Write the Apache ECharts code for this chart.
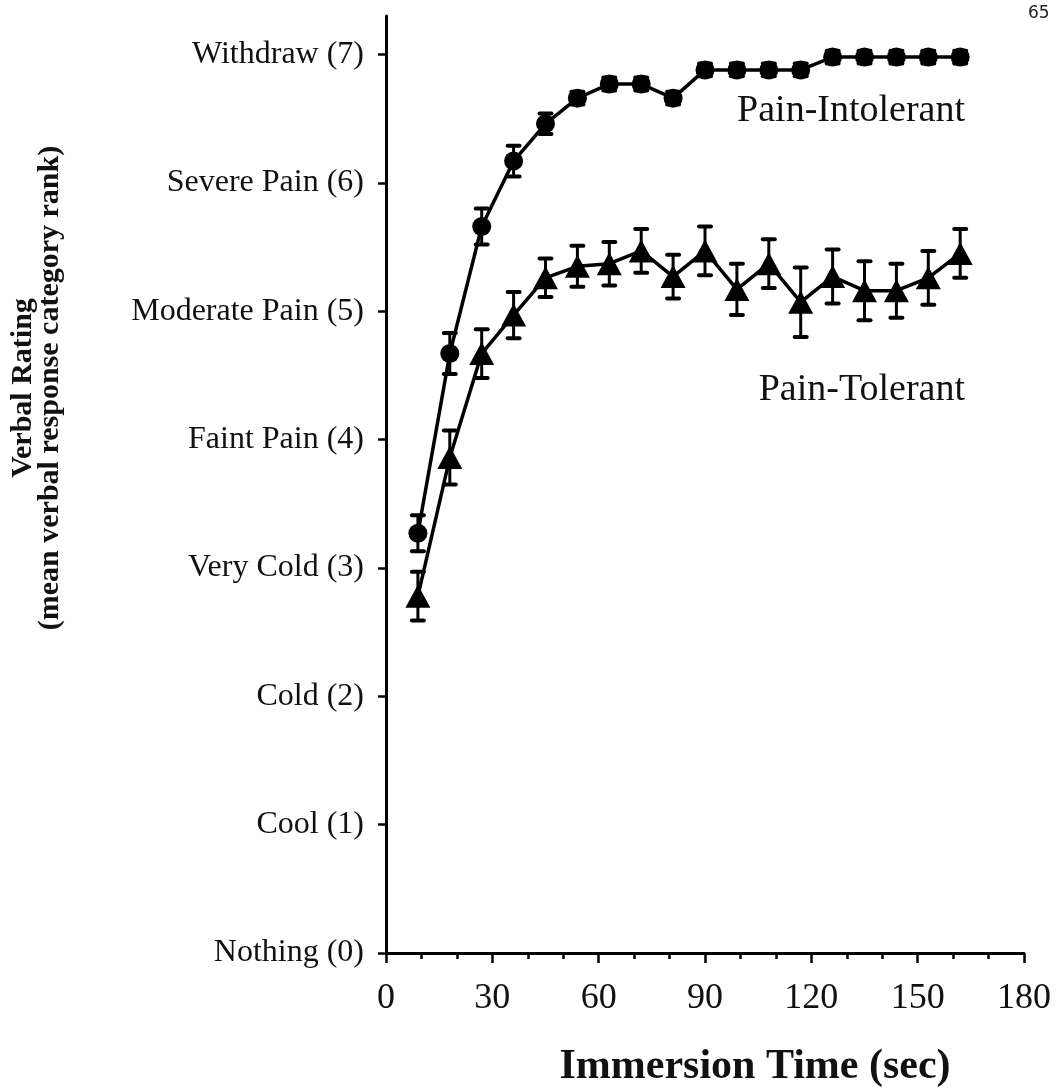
<!DOCTYPE html>
<html>
<head>
<meta charset="utf-8">
<script src="https://cdn.jsdelivr.net/npm/echarts@6/dist/echarts.min.js"></script>
<style>
html, body { margin: 0; padding: 0; background: #fff; }
#main { width: 1057px; height: 1090px; }
</style>
</head>
<body>
<div id="main"></div>
<script>
// immersion times (sec)
var times = [9, 18, 27, 36, 45, 54, 63, 72, 81, 90, 99, 108, 117, 126, 135, 144, 153, 162];

// mean verbal rating and error half-widths
var intolerant    = [3.27, 4.67, 5.66, 6.17, 6.46, 6.66, 6.77, 6.77, 6.66, 6.88, 6.88, 6.88, 6.88, 6.98, 6.98, 6.98, 6.98, 6.98];
var intolerantErr = [0.14, 0.16, 0.14, 0.12, 0.08, 0.05, 0.05, 0.05, 0.05, 0.05, 0.05, 0.05, 0.05, 0.05, 0.05, 0.05, 0.05, 0.05];
var tolerant      = [2.78, 3.86, 4.67, 4.97, 5.26, 5.35, 5.37, 5.47, 5.27, 5.47, 5.17, 5.37, 5.07, 5.27, 5.16, 5.16, 5.26, 5.45];
var tolerantErr   = [0.19, 0.21, 0.19, 0.18, 0.15, 0.16, 0.17, 0.17, 0.17, 0.19, 0.20, 0.19, 0.27, 0.21, 0.23, 0.21, 0.21, 0.19];

var ratingLabels = ['Nothing (0)', 'Cool (1)', 'Cold (2)', 'Very Cold (3)', 'Faint Pain (4)',
                    'Moderate Pain (5)', 'Severe Pain (6)', 'Withdraw (7)'];
var ratingTicks = [0, 1, 2, 3, 4, 5, 6, 7];

var serif = '"Liberation Serif", "Times New Roman", serif';

function pairs(vals) {
    return times.map(function (t, i) { return [t, vals[i]]; });
}
function bars(vals, errs) {
    return times.map(function (t, i) { return [t, vals[i] - errs[i], vals[i] + errs[i]]; });
}

function renderErr(params, api) {
    var x = api.value(0);
    var lo = api.coord([x, api.value(1)]);
    var hi = api.coord([x, api.value(2)]);
    var cap = 6;
    var capStyle = { stroke: '#000', lineWidth: 4, lineCap: 'round' };
    return {
        type: 'group',
        children: [
            { type: 'line', shape: { x1: lo[0], y1: lo[1], x2: hi[0], y2: hi[1] }, style: { stroke: '#000', lineWidth: 3 } },
            { type: 'line', shape: { x1: lo[0] - cap, y1: lo[1], x2: lo[0] + cap, y2: lo[1] }, style: capStyle },
            { type: 'line', shape: { x1: hi[0] - cap, y1: hi[1], x2: hi[0] + cap, y2: hi[1] }, style: capStyle }
        ]
    };
}

var myChart = echarts.init(document.getElementById('main'));

option = {
    animation: false,
    backgroundColor: '#fff',
    grid: {
        left: 386,
        right: 33,
        top: 16,
        bottom: 137,
        outerBoundsMode: 'none'
    },
    xAxis: {
        type: 'value',
        min: 0,
        max: 180,
        interval: 30,
        axisLine: { lineStyle: { color: '#000', width: 3 } },
        axisTick: { show: true, length: 10, lineStyle: { color: '#000', width: 2.5 } },
        minorTick: { show: true, splitNumber: 3, length: 6, lineStyle: { color: '#000', width: 2.5 } },
        splitLine: { show: false },
        axisLabel: { margin: 28, fontSize: 36, fontFamily: serif, color: '#111' }
    },
    yAxis: {
        type: 'value',
        min: 0,
        max: 7.3,
        axisLine: { show: true, lineStyle: { color: '#000', width: 3 } },
        axisTick: { show: true, length: 8, customValues: ratingTicks, lineStyle: { color: '#000', width: 2.5 } },
        splitLine: { show: false },
        axisLabel: {
            margin: 22,
            customValues: ratingTicks,
            fontSize: 32,
            fontFamily: serif,
            color: '#111',
            formatter: function (v) { return ratingLabels[Math.round(v)]; }
        }
    },
    graphic: [
        {
            type: 'text',
            x: 37, y: 388,
            rotation: Math.PI / 2,
            style: {
                text: 'Verbal Rating\n(mean verbal response category rank)',
                font: 'bold 30px ' + serif,
                lineHeight: 27,
                align: 'center',
                verticalAlign: 'middle',
                fill: '#111'
            }
        },
        {
            type: 'text',
            x: 755, y: 1067,
            style: {
                text: 'Immersion Time (sec)',
                font: 'bold 42px ' + serif,
                align: 'center',
                verticalAlign: 'middle',
                fill: '#111'
            }
        },
        {
            type: 'text',
            x: 965, y: 111,
            style: { text: 'Pain-Intolerant', font: '38px ' + serif, align: 'right', verticalAlign: 'middle', fill: '#111' }
        },
        {
            type: 'text',
            x: 965, y: 390,
            style: { text: 'Pain-Tolerant', font: '38px ' + serif, align: 'right', verticalAlign: 'middle', fill: '#111' }
        },
        {
            type: 'text',
            x: 1028, y: 14,
            style: { text: '65', font: '17px "DejaVu Sans", sans-serif', verticalAlign: 'middle', fill: '#222' }
        }
    ],
    series: [
        {
            name: 'Pain-Intolerant SE',
            type: 'custom',
            renderItem: renderErr,
            encode: { x: 0, y: [1, 2] },
            data: bars(intolerant, intolerantErr),
            z: 3
        },
        {
            name: 'Pain-Tolerant SE',
            type: 'custom',
            renderItem: renderErr,
            encode: { x: 0, y: [1, 2] },
            data: bars(tolerant, tolerantErr),
            z: 3
        },
        {
            name: 'Pain-Intolerant',
            type: 'line',
            data: pairs(intolerant),
            symbol: 'circle',
            symbolSize: 19,
            lineStyle: { color: '#000', width: 3.5 },
            itemStyle: { color: '#000' },
            z: 4
        },
        {
            name: 'Pain-Tolerant',
            type: 'line',
            data: pairs(tolerant),
            symbol: 'triangle',
            symbolSize: [25, 23],
            lineStyle: { color: '#000', width: 3.5 },
            itemStyle: { color: '#000' },
            z: 4
        }
    ]
};

myChart.setOption(option);
</script>
</body>
</html>
